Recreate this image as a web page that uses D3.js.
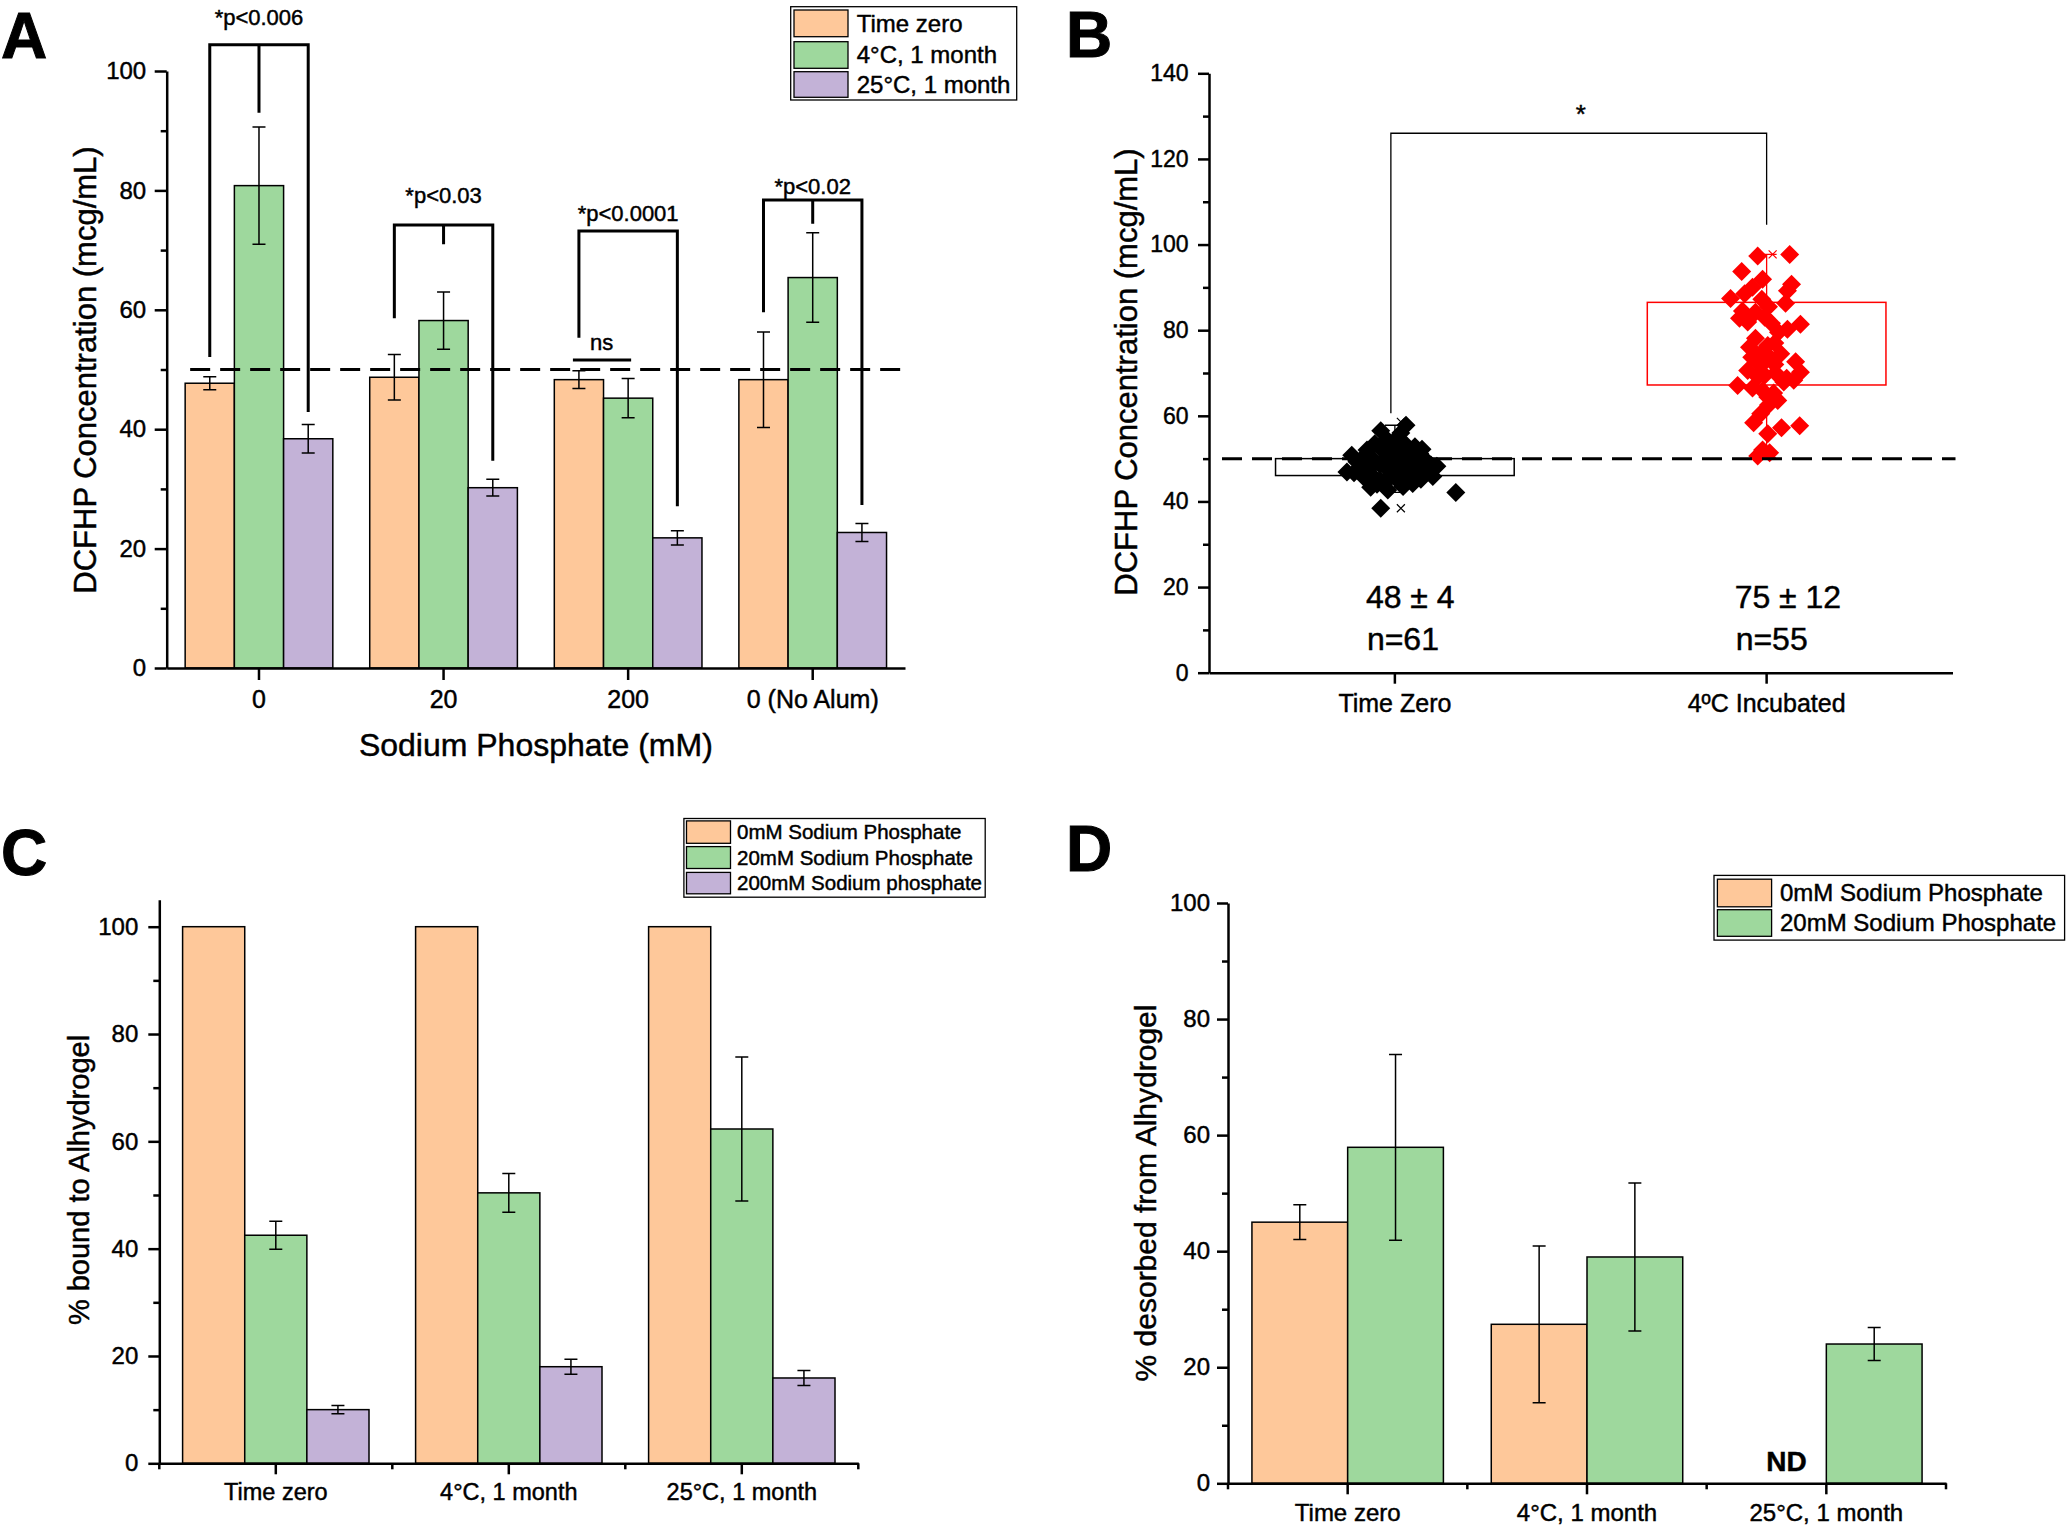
<!DOCTYPE html>
<html><head><meta charset="utf-8">
<script src="https://cdn.jsdelivr.net/npm/d3@7"></script>
<style>
body{margin:0;background:#fff}
svg{display:block}
text{font-family:"Liberation Sans",Arial,sans-serif;fill:#000;stroke:#000;stroke-width:0.45px}
</style>
</head><body>
<svg id="chart" width="2067" height="1527"></svg>
<script>
// ================= DATA =================
// Panel A
const aCategories = ["0", "20", "200", "0 (No Alum)"];
const aSeriesNames = ["Time zero", "4°C, 1 month", "25°C, 1 month"];
const aTimeZero    = [47.7, 48.7, 48.3, 48.3];
const aTimeZeroErr = [1.1, 3.8, 1.5, 8.0];
const a4C          = [80.8, 58.2, 45.2, 65.4];
const a4CErr       = [9.8, 4.8, 3.3, 7.5];
const a25C         = [38.4, 30.2, 21.8, 22.7];
const a25CErr      = [2.4, 1.4, 1.2, 1.5];
const aYTicks      = [0, 20, 40, 60, 80, 100];
const aYMinor      = [10, 30, 50, 70, 90];
const aPLabels     = ["*p<0.006", "*p<0.03", "*p<0.0001", "*p<0.02"];
const aBracketTop  = [104.4, 74.2, 73.2, 78.4];
const aBracketLeft = [52.1, 58.6, 55.3, 59.6];
const aBracketRight= [42.9, 34.7, 27.1, 27.3];
const aBracketMid  = [93.0, 71.0, null, 74.4];
const aPLabelY     = [107.7, 77.9, 74.9, 79.4];
const aNs = {group: 2, lineY: 51.6, textY: 53.3, label: "ns"};
const aTarget = 50;

// Panel B
const bCategories = ["Time Zero", "4ºC Incubated"];
const bYTicks = [0, 20, 40, 60, 80, 100, 120, 140];
const bYMinor = [10, 30, 50, 70, 90, 110, 130];
const bZeroValues = [38.4,42.1,57.8,56.5,50.8,52.0,52.2,48.5,45.8,44.2,43.3,42.7,46.7,53.7,56.0,47.5,49.0,50.0,51.0,49.5,
  48.0,47.0,46.0,45.0,44.5,50.5,51.5,53.0,54.5,55.0,48.8,47.8,46.5,49.8,48.2,47.2,45.5,44.0,43.5,46.2,
  48.6,50.2,51.8,52.6,49.2,47.6,50.8,46.9,45.2,48.4,49.6,51.2,52.8,53.5,47.0,45.8,44.8,50.6,48.9,47.4,49.3];
const bZeroJitter = [-0.038,0.164,0.030,-0.038,-0.116,-0.075,0.073,0.097,0.102,0.048,-0.065,-0.019,-0.110,0,0.016,-0.094,-0.054,-0.027,0.013,0.040,
  0.067,0.027,-0.013,-0.040,0.013,0.054,-0.013,0.032,-0.022,0.008,0,-0.022,0.059,0.081,0.113,-0.075,-0.081,-0.048,0.022,0.038,
  -0.040,-0.086,0.027,-0.040,0.022,0.005,0.032,-0.129,0.070,-0.008,-0.005,0.067,0.054,-0.054,0.089,-0.059,-0.022,-0.067,0.048,0.043,-0.102];
const bIncValues = [97.7,97.3,93.7,91.9,90.7,90.0,89.2,87.4,87.2,86.3,84.5,84.2,82.8,81.9,81.6,81.4,80.2,78.1,76.4,76.0,
  73.7,73.7,72.6,71.7,70.6,70.2,70.0,69.1,68.3,67.1,67.9,65.9,65.3,64.4,63.6,58.4,57.7,57.2,55.8,52.0,
  50.6,51.4,83.0,79.5,75.0,74.5,72.0,69.5,68.8,66.5,62.5,77.0,85.5,88.5,60.5];
const bIncJitter = [0.062,-0.024,-0.067,-0.011,0.067,-0.038,0.056,-0.097,-0.013,0.051,-0.065,-0.030,-0.073,-0.051,0.013,0.091,0.056,-0.030,0.003,-0.046,
  0.008,-0.040,0.078,-0.016,-0.051,0.091,0.024,-0.024,0.073,-0.078,0.046,-0.011,0.019,0.003,0.030,-0.035,0.089,0.040,0.003,-0.011,
  -0.024,0.008,-0.005,0.032,-0.011,0.038,0.022,-0.005,0.054,-0.038,0.005,0.022,0.005,-0.059,-0.016];
const bBoxQ1  = [46.05, 67.2];
const bBoxQ3  = [50.0, 86.5];
const bWhiskLow  = [42.1, 51.1];
const bWhiskHigh = [57.8, 97.7];
const bMin = [38.4, 50.8];
const bMax = [58.6, 97.7];
const bStatMean = ["48 ± 4", "75 ± 12"];
const bStatN    = ["n=61", "n=55"];
const bBracket = {top: 126, left: 60.6, right: 104.6, label: "*"};
const bTarget = 50;

// Panel C
const cCategories = ["Time zero", "4°C, 1 month", "25°C, 1 month"];
const cSeriesNames = ["0mM Sodium Phosphate", "20mM Sodium Phosphate", "200mM Sodium phosphate"];
const c0mM      = [100, 100, 100];
const c20mM     = [42.5, 50.4, 62.3];
const c20mMErr  = [2.6, 3.6, 13.4];
const c200mM    = [10.0, 18.0, 15.9];
const c200mMErr = [0.75, 1.4, 1.4];
const cYTicks = [0, 20, 40, 60, 80, 100];
const cYMinor = [10, 30, 50, 70, 90];

// Panel D
const dCategories = ["Time zero", "4°C, 1 month", "25°C, 1 month"];
const dSeriesNames = ["0mM Sodium Phosphate", "20mM Sodium Phosphate"];
const d0mM     = [45.0, 27.4, null];
const d0mMErr  = [3.0, 13.5, null];
const d20mM    = [57.9, 39.0, 24.0];
const d20mMErr = [16.0, 12.75, 2.85];
const dYTicks = [0, 20, 40, 60, 80, 100];
const dYMinor = [10, 30, 50, 70, 90];
const dNDLabel = "ND";

// ================= DRAWING =================
const ORANGE = "#FEC89A", GREEN = "#9ED89D", PURPLE = "#C3B2D7";
const svg = d3.select("#chart");
const FONT = '"Liberation Sans", Arial, sans-serif';

function styleAxis(g, fs) {
  g.attr("font-family", FONT).attr("font-size", fs);
  g.selectAll(".domain").attr("stroke", "#000").attr("stroke-width", 2.5);
  g.selectAll(".tick line").attr("stroke", "#000").attr("stroke-width", 2.5);
  g.selectAll(".tick text").attr("fill", "#000");
}

function yAxis(y, x0, ticks, minor, tickSize, pad, fs) {
  const g = svg.append("g").attr("transform", `translate(${x0},0)`)
    .call(d3.axisLeft(y).tickValues(ticks).tickSize(tickSize).tickSizeOuter(0).tickPadding(pad));
  styleAxis(g, fs);
  const gm = svg.append("g").attr("transform", `translate(${x0},0)`)
    .call(d3.axisLeft(y).tickValues(minor).tickSize(6).tickFormat(""));
  gm.select(".domain").remove();
  gm.selectAll(".tick line").attr("stroke", "#000").attr("stroke-width", 2.5);
}

function xAxis(x, y0, tickSize, pad, fs, minorTicks) {
  const g = svg.append("g").attr("transform", `translate(0,${y0})`)
    .call(d3.axisBottom(x).tickSize(tickSize).tickSizeOuter(0).tickPadding(pad));
  styleAxis(g, fs);
  if (minorTicks) {
    const r0 = x.range()[0];
    const bounds = d3.range(x.domain().length + 1).map(k => r0 + k * x.step());
    svg.append("g").selectAll("line").data(bounds).join("line")
      .attr("x1", d => d).attr("x2", d => d).attr("y1", y0).attr("y2", y0 + 6)
      .attr("stroke", "#000").attr("stroke-width", 2.5);
  }
}

function groupedBars(x, y, cats, series, capW) {
  const sub = d3.scaleBand().domain(d3.range(series.length)).range([0, x.bandwidth()]);
  const g = svg.append("g");
  series.forEach((s, si) => {
    const rows = cats.map((c, ci) => ({c, v: s.values[ci], e: s.errs ? s.errs[ci] : null})).filter(d => d.v != null);
    g.selectAll(null).data(rows).join("rect")
      .attr("x", d => x(d.c) + sub(si)).attr("y", d => y(d.v))
      .attr("width", sub.bandwidth()).attr("height", d => y(0) - y(d.v))
      .attr("fill", s.color).attr("stroke", "#000").attr("stroke-width", 1.5);
  });
  series.forEach((s, si) => {
    if (!s.errs) return;
    const rows = cats.map((c, ci) => ({c, v: s.values[ci], e: s.errs[ci]})).filter(d => d.v != null && d.e != null);
    const cx = d => x(d.c) + sub(si) + sub.bandwidth() / 2;
    g.selectAll(null).data(rows).join("path")
      .attr("d", d => `M${cx(d)},${y(d.v - d.e)}V${y(d.v + d.e)}` +
        `M${cx(d) - capW / 2},${y(d.v + d.e)}h${capW}M${cx(d) - capW / 2},${y(d.v - d.e)}h${capW}`)
      .attr("fill", "none").attr("stroke", "#000").attr("stroke-width", 1.5);
  });
  return sub;
}

function legend(names, colors, box, sw, rows, textX, fs) {
  svg.append("rect").attr("x", box[0]).attr("y", box[1]).attr("width", box[2] - box[0]).attr("height", box[3] - box[1])
    .attr("fill", "#fff").attr("stroke", "#000").attr("stroke-width", 1.3);
  const g = svg.append("g");
  g.selectAll("rect").data(names).join("rect")
    .attr("x", sw[0]).attr("width", sw[1] - sw[0])
    .attr("y", (d, i) => rows[i][0]).attr("height", (d, i) => rows[i][1] - rows[i][0])
    .attr("fill", (d, i) => colors[i]).attr("stroke", "#000").attr("stroke-width", 1.3);
  g.selectAll("text").data(names).join("text")
    .attr("x", textX).attr("y", (d, i) => (rows[i][0] + rows[i][1]) / 2)
    .attr("dy", "0.35em").attr("font-size", fs).text(d => d);
}

function yTitle(txt, x, y, fs) {
  svg.append("text").attr("transform", `translate(${x},${y}) rotate(-90)`)
    .attr("text-anchor", "middle").attr("font-size", fs).text(txt);
}

function panelLabel(txt, x, y) {
  svg.append("text").attr("x", x).attr("y", y).attr("font-size", 64)
    .attr("font-weight", 700).style("stroke-width", "1px").text(txt);
}

// ---------- Panel A ----------
{
  const x = d3.scaleBand().domain(aCategories).range([166.7, 905]).paddingInner(0.2).paddingOuter(0.1);
  const y = d3.scaleLinear().domain([0, 100]).range([668, 71]);
  const sub = groupedBars(x, y, aCategories, [
    {values: aTimeZero, errs: aTimeZeroErr, color: ORANGE},
    {values: a4C, errs: a4CErr, color: GREEN},
    {values: a25C, errs: a25CErr, color: PURPLE}], 13);
  yAxis(y, 166.7, aYTicks, aYMinor, 12, 8.5, 24);
  xAxis(x, 668, 12, 10, 25, false);
  svg.append("line").attr("x1", x(aCategories[0]) + 5).attr("x2", x.range()[1] - 3)
    .attr("y1", y(aTarget)).attr("y2", y(aTarget))
    .attr("stroke", "#000").attr("stroke-width", 3).attr("stroke-dasharray", "20,10");
  const cx = (c, si) => x(c) + sub(si) + sub.bandwidth() / 2;
  aCategories.forEach((c, i) => {
    let d = `M${cx(c, 0)},${y(aBracketLeft[i])}V${y(aBracketTop[i])}H${cx(c, 2)}V${y(aBracketRight[i])}`;
    if (aBracketMid[i] != null) d += `M${cx(c, 1)},${y(aBracketTop[i])}V${y(aBracketMid[i])}`;
    svg.append("path").attr("d", d).attr("fill", "none").attr("stroke", "#000").attr("stroke-width", 3);
    svg.append("text").attr("x", cx(c, 1)).attr("y", y(aPLabelY[i])).attr("text-anchor", "middle")
      .attr("font-size", 22).text(aPLabels[i]);
  });
  const nc = aCategories[aNs.group];
  svg.append("line").attr("x1", cx(nc, 0) - 6).attr("x2", cx(nc, 1) + 3)
    .attr("y1", y(aNs.lineY)).attr("y2", y(aNs.lineY)).attr("stroke", "#000").attr("stroke-width", 3);
  svg.append("text").attr("x", (cx(nc, 0) + cx(nc, 1)) / 2 - 2).attr("y", y(aNs.textY))
    .attr("text-anchor", "middle").attr("font-size", 22).text(aNs.label);
  yTitle("DCFHP Concentration (mcg/mL)", 96, 370, 31);
  svg.append("text").attr("x", (x.range()[0] + x.range()[1]) / 2).attr("y", 756)
    .attr("text-anchor", "middle").attr("font-size", 32).text("Sodium Phosphate (mM)");
  legend(aSeriesNames, [ORANGE, GREEN, PURPLE], [790.7, 6.7, 1016.7, 100], [794, 848],
    [[10, 36.7], [41.7, 68.3], [71.7, 97.3]], 856.7, 24);
  panelLabel("A", 1, 58);
}

// ---------- Panel B ----------
{
  const x = d3.scaleBand().domain(bCategories).range([1209, 1952.5]);
  const y = d3.scaleLinear().domain([0, 140]).range([672.7, 73.3]);
  const cxs = bCategories.map(c => x(c) + x.bandwidth() / 2);
  const boxW = 0.642 * x.step();
  const cols = ["#000", "#ff0000"];
  const capW = 20;
  bCategories.forEach((c, i) => {
    const cx = cxs[i];
    svg.append("rect").attr("x", cx - boxW / 2).attr("y", y(bBoxQ3[i])).attr("width", boxW)
      .attr("height", y(bBoxQ1[i]) - y(bBoxQ3[i])).attr("fill", "none").attr("stroke", cols[i]).attr("stroke-width", 1.5);
    svg.append("path")
      .attr("d", `M${cx},${y(bBoxQ1[i])}V${y(bWhiskLow[i])}M${cx},${y(bBoxQ3[i])}V${y(bWhiskHigh[i])}` +
        `M${cx - capW / 2},${y(bWhiskLow[i])}h${capW}M${cx - capW / 2},${y(bWhiskHigh[i])}h${capW}`)
      .attr("fill", "none").attr("stroke", cols[i]).attr("stroke-width", 1.3);
  });
  const diamond = "M0,-9.5L9.5,0L0,9.5L-9.5,0Z";
  const pts = [];
  bZeroValues.forEach((v, k) => pts.push({i: 0, v, j: bZeroJitter[k]}));
  bIncValues.forEach((v, k) => pts.push({i: 1, v, j: bIncJitter[k]}));
  svg.append("g").selectAll("path").data(pts).join("path")
    .attr("d", diamond)
    .attr("transform", d => `translate(${cxs[d.i] + d.j * x.step()},${y(d.v)})`)
    .attr("fill", d => cols[d.i]);
  bCategories.forEach((c, i) => {
    [bMin[i], bMax[i]].forEach(v => {
      const cx = cxs[i] + 6, cy = y(v), s = 4;
      svg.append("path").attr("d", `M${cx - s},${cy - s}L${cx + s},${cy + s}M${cx - s},${cy + s}L${cx + s},${cy - s}`)
        .attr("stroke", cols[i]).attr("stroke-width", 1.2);
    });
  });
  svg.append("line").attr("x1", x.range()[0] + 13).attr("x2", x.range()[1] + 3)
    .attr("y1", y(bTarget)).attr("y2", y(bTarget))
    .attr("stroke", "#000").attr("stroke-width", 3).attr("stroke-dasharray", "20,10");
  svg.append("path").attr("d", `M${cxs[0] - 4},${y(bBracket.left)}V${y(bBracket.top)}H${cxs[1]}V${y(bBracket.right)}`)
    .attr("fill", "none").attr("stroke", "#000").attr("stroke-width", 1.3);
  svg.append("text").attr("x", (cxs[0] + cxs[1]) / 2).attr("y", 123).attr("text-anchor", "middle")
    .attr("font-size", 26).text(bBracket.label);
  yAxis(y, 1209, bYTicks, bYMinor, 11, 9.5, 23);
  xAxis(x, 672.7, 11, 10.5, 25, false);
  bCategories.forEach((c, i) => {
    svg.append("text").attr("x", cxs[i] - 29 - i * 3).attr("y", 608).attr("font-size", 32).text(bStatMean[i]);
    svg.append("text").attr("x", cxs[i] - 28 - i * 3).attr("y", 650).attr("font-size", 32).text(bStatN[i]);
  });
  yTitle("DCFHP Concentration (mcg/mL)", 1137, 372, 31);
  panelLabel("B", 1066, 57);
}

// ---------- Panel C ----------
{
  const x = d3.scaleBand().domain(cCategories).range([159.3, 858.3]).paddingInner(0.2).paddingOuter(0.1);
  const y = d3.scaleLinear().domain([0, 105]).range([1463.3, 1463.3 - 105 * 5.366]);
  groupedBars(x, y, cCategories, [
    {values: c0mM, errs: null, color: ORANGE},
    {values: c20mM, errs: c20mMErr, color: GREEN},
    {values: c200mM, errs: c200mMErr, color: PURPLE}], 13);
  yAxis(y, 159.3, cYTicks, cYMinor, 11, 10, 24);
  xAxis(x, 1463.3, 11, 9, 23.5, true);
  yTitle("% bound to Alhydrogel", 89, 1180, 29);
  legend(cSeriesNames, [ORANGE, GREEN, PURPLE], [683.9, 818.5, 985.2, 897.2], [686.5, 730.5],
    [[820.9, 843.3], [846.6, 868.5], [872.4, 893.8]], 737, 20.5);
  panelLabel("C", 1, 875);
}

// ---------- Panel D ----------
{
  const x = d3.scaleBand().domain(dCategories).range([1228, 1946]).paddingInner(0.2).paddingOuter(0.1);
  const y = d3.scaleLinear().domain([0, 100]).range([1483.3, 903]);
  const sub = groupedBars(x, y, dCategories, [
    {values: d0mM, errs: d0mMErr, color: ORANGE},
    {values: d20mM, errs: d20mMErr, color: GREEN}], 13);
  yAxis(y, 1228, dYTicks, dYMinor, 11, 7, 24);
  xAxis(x, 1483.3, 11, 9.7, 24, true);
  const ndIdx = d0mM.findIndex(v => v == null);
  svg.append("text").attr("x", x(dCategories[ndIdx]) + sub(0) + sub.bandwidth() / 2 + 8).attr("y", 1471)
    .attr("text-anchor", "middle").attr("font-size", 28).attr("font-weight", 700).text(dNDLabel);
  yTitle("% desorbed from Alhydrogel", 1156, 1193, 30);
  legend(dSeriesNames, [ORANGE, GREEN], [1714, 875.4, 2064.6, 940.1], [1717.4, 1771.6],
    [[879.2, 906.8], [909.7, 936.3]], 1780, 24);
  panelLabel("D", 1066, 871);
}
</script>
</body></html>
